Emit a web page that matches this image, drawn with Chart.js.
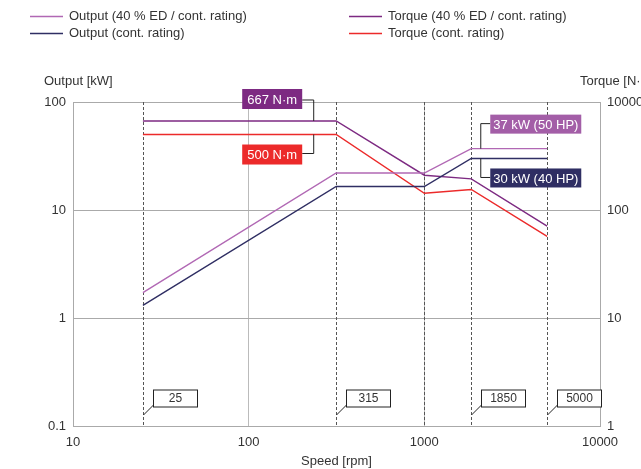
<!DOCTYPE html>
<html>
<head>
<meta charset="utf-8">
<script src="https://cdn.jsdelivr.net/npm/chart.js@4"></script>
<style>
  html, body { margin: 0; padding: 0; background: #fff; }
  #wrap { width: 641px; height: 469px; }
</style>
</head>
<body>
<div id="wrap"><canvas id="grafica" width="641" height="469"></canvas></div>
<script>
// speeds [rpm] where the curves break
const speeds = [25, 315, 1000, 1850, 5000];

// output [kW]
const output40 = [1.72, 22, 22, 37, 37];
const outputCont = [1.31, 16.5, 16.5, 30, 30];
// torque [N·m]
const torque40 = [667, 667, 210, 194, 71];
const torqueCont = [500, 500, 143, 155, 57];

// speeds marked with dashed lines / callouts
const markerSpeeds = [25, 315, 1000, 1850, 5000];
const calloutSpeeds = [25, 315, 1850, 5000];

const xTicks = [10, 100, 1000, 10000];
const leftTicks = [0.1, 1, 10, 100];
const rightTicks = [1, 10, 100, 1000];
const rightTickLabels = ['1', '10', '100', '10000'];

const FONT = '"Liberation Sans", Arial, sans-serif';
const TXT = '#333';

function pts(xs, ys) {
  return xs.map((x, i) => ({ x: x, y: ys[i] }));
}

const dataset1 = {
  label: 'Output (40 % ED / cont. rating)',
  data: pts(speeds, output40),
  borderColor: '#b168b4',
  yAxisID: 'y'
};
const dataset2 = {
  label: 'Output (cont. rating)',
  data: pts(speeds, outputCont),
  borderColor: '#2f2e63',
  yAxisID: 'y'
};
const dataset3 = {
  label: 'Torque (40 % ED / cont. rating)',
  data: pts(speeds, torque40),
  borderColor: '#7d2a82',
  yAxisID: 'yR'
};
const dataset4 = {
  label: 'Torque (cont. rating)',
  data: pts(speeds, torqueCont),
  borderColor: '#ec2a2a',
  yAxisID: 'yR'
};

function setTicks(values) {
  return function (scale) {
    scale.ticks = values.map(v => ({ value: v }));
  };
}

// dashed lines, callouts, value boxes, legend and axis titles
const extras = {
  id: 'extras',
  beforeDatasetsDraw(chart) {
    const ctx = chart.ctx, a = chart.chartArea, xs = chart.scales.x;
    ctx.save();
    ctx.strokeStyle = '#555';
    ctx.lineWidth = 1;
    ctx.setLineDash([3, 2]);
    markerSpeeds.forEach(s => {
      const x = Math.round(xs.getPixelForValue(s)) + 0.5;
      ctx.beginPath();
      ctx.moveTo(x, a.top);
      ctx.lineTo(x, a.bottom);
      ctx.stroke();
    });
    ctx.restore();
  },
  afterDatasetsDraw(chart) {
    const ctx = chart.ctx, a = chart.chartArea;
    const xs = chart.scales.x, yL = chart.scales.y, yR = chart.scales.yR;
    ctx.save();
    ctx.font = '13px ' + FONT;
    ctx.textBaseline = 'middle';

    // speed callouts at the bottom
    calloutSpeeds.forEach(s => {
      const x = Math.round(xs.getPixelForValue(s)) + 0.5;
      const bx = x + 10, by = a.bottom - 36;
      ctx.strokeStyle = '#222';
      ctx.lineWidth = 1;
      ctx.beginPath();
      ctx.moveTo(x, a.bottom - 11);
      ctx.lineTo(bx, by + 15);
      ctx.stroke();
      ctx.fillStyle = '#fff';
      ctx.fillRect(bx, by, 44, 17);
      ctx.strokeRect(bx, by, 44, 17);
      ctx.fillStyle = TXT;
      ctx.textAlign = 'center';
      ctx.font = '12px ' + FONT;
      ctx.fillText(String(s), bx + 22, by + 9);
    });

    ctx.font = '13px ' + FONT;
    function box(text, color, x, y, w, h) {
      ctx.fillStyle = color;
      ctx.fillRect(x, y, w, h);
      ctx.fillStyle = '#fff';
      ctx.textAlign = 'center';
      ctx.fillText(text, x + w / 2, y + h / 2 + 1);
    }
    function bracket(x0, y0, x1, y1) {
      ctx.strokeStyle = '#222';
      ctx.lineWidth = 1;
      ctx.beginPath();
      ctx.moveTo(x0, y0);
      ctx.lineTo(x1, y0);
      ctx.lineTo(x1, y1);
      ctx.stroke();
    }

    // torque labels near 315 rpm
    const x315 = xs.getPixelForValue(315);
    const yT40 = yR.getPixelForValue(torque40[1]);
    const yTc = yR.getPixelForValue(torqueCont[1]);
    bracket(x315 - 34, yT40 - 21, x315 - 22.5, yT40);
    box('667 N·m', '#7d2a82', x315 - 94, yT40 - 32, 60, 20);
    bracket(x315 - 34, yTc + 19, x315 - 22.5, yTc);
    box('500 N·m', '#ec2a2a', x315 - 94, yTc + 10, 60, 20);

    // output labels near 1850 rpm
    const x1850 = xs.getPixelForValue(1850);
    const yO40 = yL.getPixelForValue(output40[3]);
    const yOc = yL.getPixelForValue(outputCont[3]);
    bracket(x1850 + 19, yO40 - 25, x1850 + 9.5, yO40);
    box('37 kW (50 HP)', '#a35ea7', x1850 + 19, yO40 - 34, 91, 19);
    bracket(x1850 + 19, yOc + 19, x1850 + 9.5, yOc);
    box('30 kW (40 HP)', '#2f2e63', x1850 + 19, yOc + 10, 91, 19);

    // axis titles
    ctx.fillStyle = TXT;
    ctx.textAlign = 'left';
    ctx.fillText('Output [kW]', 44, 81);
    ctx.fillText('Torque [N·m]', 580, 81);

    // legend
    const items = chart.data.datasets;
    const slots = [[30, 16], [30, 33], [349, 16], [349, 33]];
    items.forEach((d, k) => {
      const p = slots[k];
      ctx.strokeStyle = d.borderColor;
      ctx.lineWidth = 1.3;
      ctx.beginPath();
      ctx.moveTo(p[0], p[1] + 0.5);
      ctx.lineTo(p[0] + 33, p[1] + 0.5);
      ctx.stroke();
      ctx.fillStyle = TXT;
      ctx.textAlign = 'left';
      ctx.fillText(d.label, p[0] + 39, p[1]);
    });
    ctx.restore();
  }
};

const graph = document.querySelector('#grafica');

const config = {
  type: 'line',
  data: { datasets: [dataset1, dataset2, dataset3, dataset4] },
  options: {
    responsive: false,
    animation: false,
    layout: { padding: { top: 102, left: 0, right: 0, bottom: 0 } },
    elements: {
      line: { borderWidth: 1.4, tension: 0 },
      point: { radius: 0 }
    },
    plugins: { legend: { display: false }, tooltip: { enabled: false } },
    scales: {
      x: {
        type: 'logarithmic',
        min: 10, max: 10000,
        afterBuildTicks: setTicks(xTicks),
        afterFit(s) { s.height = 43; },
        grid: { color: '#bbb', drawTicks: false },
        border: { color: '#aaa' },
        ticks: { color: TXT, font: { family: FONT, size: 13 }, padding: 9,
                 maxRotation: 0, callback: v => String(v) },
        title: { display: true, text: 'Speed [rpm]', color: TXT,
                 font: { family: FONT, size: 13 }, padding: { top: 0, bottom: 0 } }
      },
      y: {
        type: 'logarithmic',
        position: 'left',
        min: 0.1, max: 100,
        afterBuildTicks: setTicks(leftTicks),
        afterFit(s) { s.width = 73; },
        grid: { color: '#aaa', drawTicks: false },
        border: { color: '#aaa' },
        ticks: { color: TXT, font: { family: FONT, size: 13 }, padding: 7,
                 callback: v => String(v) }
      },
      yR: {
        type: 'logarithmic',
        position: 'right',
        min: 1, max: 1000,
        afterBuildTicks: setTicks(rightTicks),
        afterFit(s) { s.width = 41; },
        grid: { drawOnChartArea: false, drawTicks: false },
        border: { color: '#aaa' },
        ticks: { color: TXT, font: { family: FONT, size: 13 }, padding: 7,
                 callback: (v, i) => rightTickLabels[i] }
      }
    }
  },
  plugins: [extras]
};

new Chart(graph, config);
</script>
</body>
</html>
